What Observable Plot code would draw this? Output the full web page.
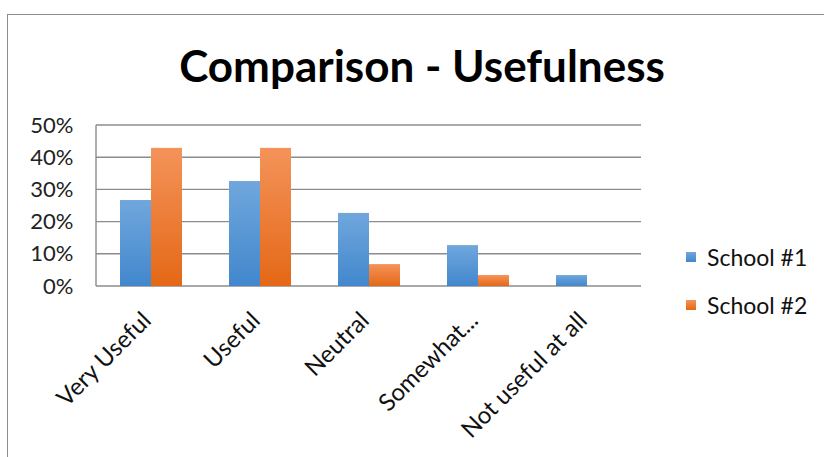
<!DOCTYPE html>
<html><head><meta charset="utf-8">
<script src="https://cdn.jsdelivr.net/npm/d3@7"></script>
<script src="https://cdn.jsdelivr.net/npm/@observablehq/plot@0.6"></script>
<style>
html,body{margin:0;padding:0;background:#fff;}
#wrap{position:relative;width:824px;height:457px;overflow:hidden;font-family:Lato,"Open Sans",sans-serif;}
#border{position:absolute;left:7px;top:14px;width:900px;height:600px;border-left:1.5px solid #8c8c8c;border-top:1.5px solid #8c8c8c;}
#title{position:absolute;left:0;width:844px;top:39px;text-align:center;font-size:44px;font-weight:700;color:#000;line-height:1.2;}
#chart{position:absolute;left:0;top:110px;}
.leg{position:absolute;left:686px;font-size:23px;color:#111;display:flex;align-items:center;}
.sw{width:10px;height:10px;margin-right:11px;}
</style></head>
<body><div id="wrap"><div id="border"></div><div id="title">Comparison - Usefulness</div><div id="chart"></div>
<div id="legend"></div></div>
<script>
const categories = ["Very Useful", "Useful", "Neutral", "Somewhat...", "Not useful at all"];
const seriesNames = ["School #1", "School #2"];
const school1 = [26.7, 32.6, 22.7, 12.7, 3.4];
const school2 = [42.9, 42.9, 6.8, 3.4, 0];
const yTicks = [0, 10, 20, 30, 40, 50];
const seriesColors = [["#70a7dd", "#4287cd"], ["#f4935a", "#e46816"]];

const rows = [];
categories.forEach((c, i) => {
  rows.push({category: c, series: seriesNames[0], value: school1[i]});
  rows.push({category: c, series: seriesNames[1], value: school2[i]});
});

const chart = Plot.plot({
  width: 660,
  height: 347,
  marginLeft: 96,
  marginRight: 19,
  marginTop: 15,
  marginBottom: 171,
  style: {fontFamily: "Lato, 'Open Sans', sans-serif", background: "transparent"},
  fx: {domain: categories, paddingInner: 0.42, paddingOuter: 0.21, label: null},
  x: {domain: seriesNames, padding: 0, axis: null},
  y: {domain: [0, 50], ticks: yTicks, label: null},
  color: {domain: seriesNames, range: ["url(#gradS1)", "url(#gradS2)"]},
  marks: [
    Plot.barY(rows, {fx: "category", x: "series", y: "value", fill: "series"}),
    Plot.axisY({ticks: yTicks, tickFormat: d => d + "%", tickSize: 0, tickPadding: 46, fontSize: 22, fill: "#222", label: null}),
    Plot.axisFx({anchor: "bottom", tickRotate: -45, tickSize: 0, tickPadding: 30, dx: -4, fontSize: 24, fill: "#111", label: null})
  ]
});

const svg = d3.select(chart);
const defs = svg.insert("defs", ":first-child");
seriesColors.forEach((cols, i) => {
  const g = defs.append("linearGradient").attr("id", "gradS" + (i + 1)).attr("x1", 0).attr("y1", 0).attr("x2", 0).attr("y2", 1);
  g.append("stop").attr("offset", "0%").attr("stop-color", cols[0]);
  g.append("stop").attr("offset", "100%").attr("stop-color", cols[1]);
});

// grid lines and left axis line spanning the whole frame, positioned through Plot's own scales
const yS = chart.scale("y");
const fxS = chart.scale("fx");
const [fx0, fx1] = fxS.range;
const grid = svg.insert("g", "g[aria-label='bar']").attr("stroke", "#8c8c8c").attr("stroke-width", 1.4);
yTicks.forEach(t => {
  const yy = yS.apply(t);
  grid.append("line").attr("x1", fx0).attr("x2", fx1).attr("y1", yy).attr("y2", yy);
});
grid.append("line").attr("x1", fx0).attr("x2", fx0).attr("y1", yS.apply(0)).attr("y2", yS.apply(50));

document.getElementById("chart").appendChild(chart);

const legend = document.getElementById("legend");
const legTops = [243, 291];
seriesNames.forEach((s, i) => {
  const d = document.createElement("div");
  d.className = "leg";
  d.style.top = legTops[i] + "px";
  d.innerHTML = `<div class="sw" style="background:linear-gradient(${seriesColors[i][0]},${seriesColors[i][1]})"></div><span>${s}</span>`;
  legend.appendChild(d);
});
</script></body></html>
